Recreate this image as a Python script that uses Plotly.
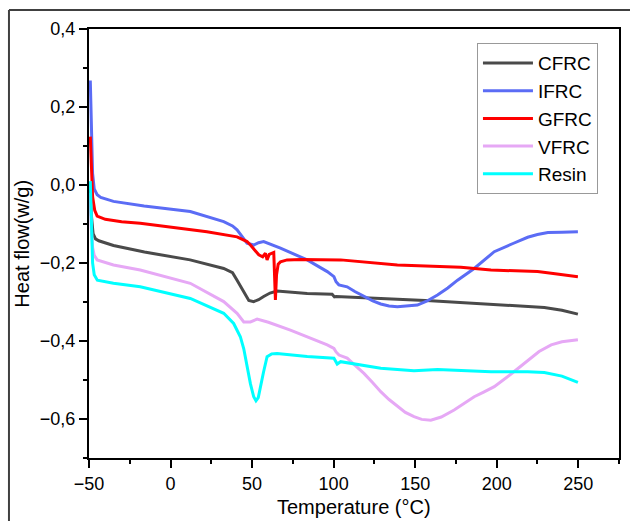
import plotly.graph_objects as go

cfrc_x = [-49.2, -48.5, -47.5, -46, -44, -35, -16, 12, 32.6, 38, 40.8, 43.5, 45.9, 48, 51, 54, 57.1, 61, 65.3, 75, 83.8, 99.1, 100.5, 101.5, 110, 128.9, 159.6, 178, 196.5, 229.2, 240, 249.8]
cfrc_y = [0.0, -0.08, -0.125, -0.138, -0.143, -0.155, -0.172, -0.192, -0.214, -0.225, -0.244, -0.265, -0.282, -0.296, -0.299, -0.294, -0.286, -0.277, -0.272, -0.275, -0.278, -0.280, -0.287, -0.286, -0.288, -0.291, -0.297, -0.302, -0.306, -0.314, -0.321, -0.331]

ifrc_x = [-49.2, -48.6, -47.8, -46.8, -45, -42.8, -35, -16.2, 12.1, 32.6, 38, 40.8, 44, 46.9, 51, 54, 57.1, 67.4, 83.8, 96.1, 100.2, 101.5, 103.2, 108.3, 113, 118.6, 124, 128.9, 134, 139.1, 145, 151.4, 157, 163.7, 170, 176, 186.2, 192, 198.5, 210, 219, 225, 231.4, 240, 249.8]
ifrc_y = [0.268, 0.15, 0.03, -0.01, -0.025, -0.032, -0.042, -0.054, -0.068, -0.094, -0.105, -0.115, -0.132, -0.149, -0.154, -0.148, -0.145, -0.162, -0.192, -0.222, -0.235, -0.248, -0.256, -0.261, -0.273, -0.286, -0.297, -0.305, -0.310, -0.312, -0.311, -0.308, -0.298, -0.282, -0.264, -0.244, -0.214, -0.193, -0.171, -0.150, -0.134, -0.127, -0.122, -0.121, -0.120]

gfrc_x = [-49.2, -48.6, -47.8, -46.5, -45, -40, -30, -18.6, 0, 22.3, 40.8, 44, 46.9, 49, 51, 54.1, 56.5, 58.2, 59.2, 60.5, 63.3, 64.3, 65.0, 66.0, 67.4, 71.5, 80, 104.3, 139.1, 178, 196.5, 225.1, 237, 249.8]
gfrc_y = [0.124, 0.04, -0.03, -0.065, -0.080, -0.088, -0.094, -0.098, -0.108, -0.120, -0.133, -0.139, -0.145, -0.154, -0.165, -0.179, -0.184, -0.175, -0.192, -0.178, -0.173, -0.295, -0.23, -0.203, -0.197, -0.192, -0.191, -0.192, -0.205, -0.211, -0.218, -0.222, -0.228, -0.235]

vfrc_x = [-49.2, -48.6, -47.8, -46.8, -45, -35, -18.6, 12.1, 32.6, 40.8, 44.9, 49, 53.1, 60, 73.5, 96.1, 100.2, 101.5, 103.3, 108.3, 113, 118.6, 124, 128.9, 134, 139.1, 144, 149.3, 154, 159.6, 166, 173.9, 180, 186.2, 192, 198.5, 209, 219, 226, 233.4, 240, 249.8]
vfrc_y = [-0.02, -0.11, -0.16, -0.18, -0.192, -0.205, -0.218, -0.252, -0.299, -0.329, -0.351, -0.351, -0.344, -0.352, -0.372, -0.410, -0.419, -0.428, -0.436, -0.444, -0.462, -0.483, -0.507, -0.530, -0.550, -0.568, -0.583, -0.594, -0.601, -0.603, -0.595, -0.577, -0.561, -0.543, -0.531, -0.517, -0.484, -0.449, -0.427, -0.410, -0.402, -0.397]

resin_x = [-49.2, -48.6, -47.8, -46.8, -44.9, -35, -18.6, 12.1, 32.6, 38.7, 42.8, 44.9, 46.9, 49, 51, 52.4, 53.8, 55.1, 57, 59.2, 62, 65.3, 83.8, 100.2, 101.2, 102.2, 104.3, 128.9, 149.3, 163.7, 196.5, 219, 229.2, 240, 249.8]
resin_y = [0.01, -0.12, -0.20, -0.23, -0.244, -0.252, -0.261, -0.291, -0.329, -0.355, -0.389, -0.42, -0.466, -0.51, -0.543, -0.553, -0.545, -0.517, -0.48, -0.440, -0.433, -0.432, -0.440, -0.444, -0.452, -0.459, -0.453, -0.470, -0.476, -0.473, -0.479, -0.479, -0.481, -0.490, -0.506]

names = ["CFRC", "IFRC", "GFRC", "VFRC", "Resin"]
colors = ["#4a4a4a", "#5b6cf5", "#ff0000", "#e6a8f5", "#00ffff"]
series = [(cfrc_x, cfrc_y), (ifrc_x, ifrc_y), (gfrc_x, gfrc_y), (vfrc_x, vfrc_y), (resin_x, resin_y)]

fig = go.Figure()
for name, col, (xs, ys) in zip(names, colors, series):
    fig.add_trace(go.Scatter(x=xs, y=ys, mode="lines", name=name,
                             line=dict(color=col, width=3)))

font_family = "Liberation Sans, Arial, sans-serif"
axis_common = dict(
    showline=True, linecolor="black", linewidth=2, mirror=True,
    ticks="outside", ticklen=8, tickwidth=2, tickcolor="black",
    showgrid=False, zeroline=False, automargin=False,
    tickfont=dict(family=font_family, size=18, color="black"),
)

fig.update_layout(
    width=630, height=521, autosize=False,
    margin=dict(l=89, r=11, t=29, b=63),
    paper_bgcolor="white", plot_bgcolor="white",
    separators=",.",
    font=dict(family=font_family, color="black"),
    legend=dict(x=0.732, y=0.967, xanchor="left", yanchor="top",
                bordercolor="#999999", borderwidth=1, bgcolor="white",
                font=dict(family=font_family, size=19, color="black"),
                itemwidth=50, tracegroupgap=0),
    showlegend=True,
)
fig.update_xaxes(range=[-50, 275], tickmode="linear", tick0=-50, dtick=50,
                 minor=dict(dtick=25, ticklen=4, tickwidth=2, ticks="outside", tickcolor="black"),
                 **axis_common)
fig.update_yaxes(range=[-0.7, 0.4], tickmode="linear", tick0=-0.6, dtick=0.2, tickformat=".1f",
                 minor=dict(dtick=0.1, ticklen=4, tickwidth=2, ticks="outside", tickcolor="black"),
                 **axis_common)

# axis titles
fig.add_annotation(text="Temperature (°C)", xref="paper", yref="paper", x=0.5, y=-0.084,
                   xanchor="center", yanchor="top", showarrow=False,
                   font=dict(family=font_family, size=20, color="black"))
fig.add_annotation(text="Heat flow(w/g)", xref="paper", yref="paper", x=-0.128, y=0.5,
                   xanchor="center", yanchor="middle", showarrow=False, textangle=-90,
                   font=dict(family=font_family, size=20, color="black"))

# outer frame lines (top and left)
fig.add_shape(type="line", xref="paper", yref="paper", x0=-0.151, x1=1.03, y0=1.0443, y1=1.0443,
              line=dict(color="#404040", width=2))
fig.add_shape(type="line", xref="paper", yref="paper", x0=-0.151, x1=-0.151, y0=1.0443, y1=-0.16,
              line=dict(color="#404040", width=2))

fig.write_html("out.html")
